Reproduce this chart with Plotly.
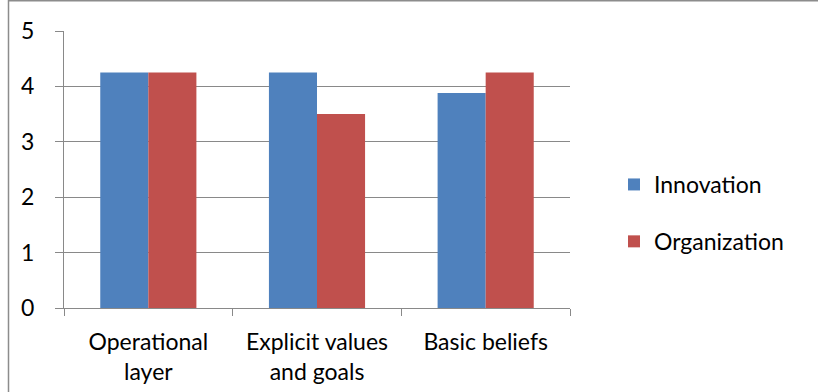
import plotly.graph_objects as go

categories = ["Operational<br>layer", "Explicit values<br>and goals", "Basic beliefs"]
innovation = [4.25, 4.25, 3.88]
organization = [4.25, 3.5, 4.25]
y_ticks = [0, 1, 2, 3, 4, 5]

BLUE = "#4F81BD"
RED = "#C0504D"
GRID = "#898989"
FONT = "Lato"
FS = 23

fig = go.Figure()
fig.add_trace(go.Bar(name="Innovation", x=categories, y=innovation,
                     marker=dict(color=BLUE, line=dict(width=0)), legendgroup="a"))
fig.add_trace(go.Bar(name="Organization", x=categories, y=organization,
                     marker=dict(color=RED, line=dict(width=0)), legendgroup="b"))

W, H = 818, 392
L, R, T, B = 64, 248, 31, 84
pw, ph = W - L - R, H - T - B

def px_x(p):
    return (p - L) / pw

def px_y(p):
    return (H - B - p) / ph

fig.update_layout(
    width=W, height=H,
    margin=dict(l=L, r=R, t=T, b=B, autoexpand=False),
    paper_bgcolor="white", plot_bgcolor="white",
    font=dict(family=FONT, size=FS, color="black"),
    barmode="group", bargap=0.43, bargroupgap=0,
    showlegend=True,
    legend=dict(x=px_x(614), xanchor="left", y=px_y(213), yanchor="middle",
                traceorder="grouped", tracegroupgap=24,
                font=dict(family=FONT, size=FS, color="black"),
                bgcolor="rgba(0,0,0,0)"),
    xaxis=dict(showgrid=False, showline=True, linecolor=GRID, linewidth=1.3,
               ticks="outside", tickson="boundaries", ticklen=7, tickcolor=GRID, tickwidth=1.3,
               tickfont=dict(family=FONT, size=FS, color="black"),
               ticklabelstandoff=13, fixedrange=True, automargin=False),
    yaxis=dict(range=[0, 5], tickvals=y_ticks, showgrid=True, gridcolor=GRID, gridwidth=1.3,
               showline=True, linecolor=GRID, linewidth=1.3,
               ticks="outside", ticklen=8, tickcolor=GRID, tickwidth=1.3,
               tickfont=dict(family=FONT, size=FS, color="black"),
               ticklabelstandoff=16, zeroline=False, fixedrange=True, automargin=False),
    shapes=[dict(type="rect", xref="paper", yref="paper",
                 x0=px_x(8.5), x1=px_x(W + 20), y0=px_y(H + 20), y1=px_y(0.8),
                 line=dict(color="#8c8c8c", width=1.5), fillcolor="rgba(0,0,0,0)", layer="below")],
)

fig.write_html("out.html")
